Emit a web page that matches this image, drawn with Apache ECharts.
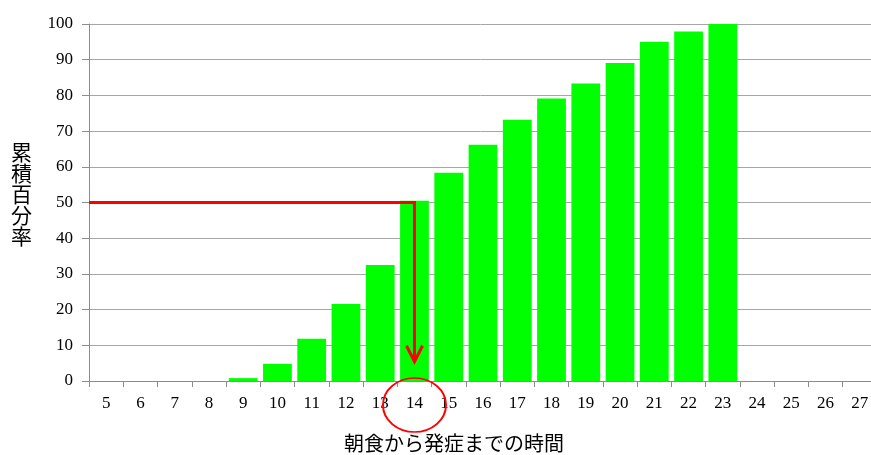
<!DOCTYPE html>
<html>
<head>
<meta charset="utf-8">
<script src="https://cdn.jsdelivr.net/npm/echarts@6/dist/echarts.min.js"></script>
<style>
  html, body { margin: 0; padding: 0; background: #fff; }
  #chart { width: 871px; height: 455px; }
</style>
</head>
<body>
<div id="chart"></div>
<script>
// Hours from breakfast to onset, and cumulative percentage of cases
const hours = ['5','6','7','8','9','10','11','12','13','14','15','16','17','18','19','20','21','22','23','24','25','26','27'];
const cumulativePct = [0, 0, 0, 0, 0.8, 4.8, 11.8, 21.6, 32.5, 50.5, 58.3, 66.2, 73.2, 79.1, 83.3, 89.1, 95.0, 97.9, 100, 0, 0, 0, 0];
const yTicks = [0, 10, 20, 30, 40, 50, 60, 70, 80, 90, 100];

// Median reading: 50% level traced across to the 14-hour bar, then down to the axis
const medianLevel = 50;
const medianHour = '14';
const arrowEnd = 5.4;

const serif = "'Liberation Serif', 'Times New Roman', serif";
const gothic = "'Noto Sans CJK JP', sans-serif";

const chart = echarts.init(document.getElementById('chart'), null, { renderer: 'canvas' });

chart.setOption({
  animation: false,
  backgroundColor: '#ffffff',
  grid: { left: 89, right: -6, top: 24, bottom: 74, containLabel: false, outerBoundsMode: 'none' },
  // Vertical y-axis title, one character per line
  graphic: [
    {
      type: 'text',
      left: 11,
      top: 142,
      style: {
        text: '累\n積\n百\n分\n率',
        font: "21px 'Noto Sans CJK JP', sans-serif",
        lineHeight: 21,
        fill: '#000',
        align: 'left'
      }
    }
  ],
  xAxis: {
    type: 'category',
    data: hours,
    boundaryGap: true,
    name: '朝食から発症までの時間',
    nameLocation: 'middle',
    nameGap: 52,
    nameTextStyle: { fontFamily: gothic, fontSize: 20, color: '#000', padding: [0, 58, 0, 0] },
    axisLine: { lineStyle: { color: '#8c8c8c', width: 1 } },
    axisTick: { show: true, alignWithLabel: false, length: 6, lineStyle: { color: '#8c8c8c' } },
    axisLabel: { fontFamily: serif, fontSize: 17, color: '#000', margin: 14, interval: 0 },
    splitLine: { show: false }
  },
  yAxis: {
    type: 'value',
    min: yTicks[0],
    max: yTicks[yTicks.length - 1],
    interval: 10,
    axisLine: { show: true, lineStyle: { color: '#8c8c8c', width: 1 } },
    axisTick: { show: true, inside: false, length: 7, lineStyle: { color: '#8c8c8c' } },
    axisLabel: { fontFamily: serif, fontSize: 17, color: '#000', margin: 16 },
    splitLine: { show: true, lineStyle: { color: '#a6a6a6', width: 1 } }
  },
  series: [
    {
      type: 'bar',
      data: cumulativePct,
      barCategoryGap: '16%',
      itemStyle: { color: '#00ff00' },
      z: 2
    },
    {
      // Red guide lines, arrowhead and the ring round the 14-hour label
      type: 'custom',
      data: [[hours.indexOf(medianHour), medianLevel, arrowEnd]],
      z: 10,
      silent: true,
      renderItem: function (params, api) {
        const idx = api.value(0);
        const band = api.size([1, 0])[0];
        const start = api.coord([0, api.value(1)]);
        const corner = api.coord([idx, api.value(1)]);
        const tip = api.coord([idx, api.value(2)]);
        const base = api.coord([idx, 0]);
        const x0 = start[0] - band / 2;
        const red = '#ff0000';
        return {
          type: 'group',
          children: [
            {
              type: 'polyline',
              shape: { points: [[x0, corner[1]], [corner[0], corner[1]], [tip[0], tip[1]]] },
              style: { stroke: red, lineWidth: 3, fill: null, lineJoin: 'miter' }
            },
            {
              type: 'polyline',
              shape: { points: [[tip[0] - 8, tip[1] - 16], [tip[0], tip[1]], [tip[0] + 8, tip[1] - 16]] },
              style: { stroke: red, lineWidth: 3, fill: null, lineJoin: 'miter' }
            },
            {
              type: 'circle',
              x: base[0],
              y: base[1] + 24,
              scaleY: 27 / 31.5,
              shape: { cx: 0, cy: 0, r: 31.5 },
              style: { stroke: red, lineWidth: 2, fill: null, strokeNoScale: true }
            }
          ]
        };
      }
    }
  ]
});
</script>
</body>
</html>
